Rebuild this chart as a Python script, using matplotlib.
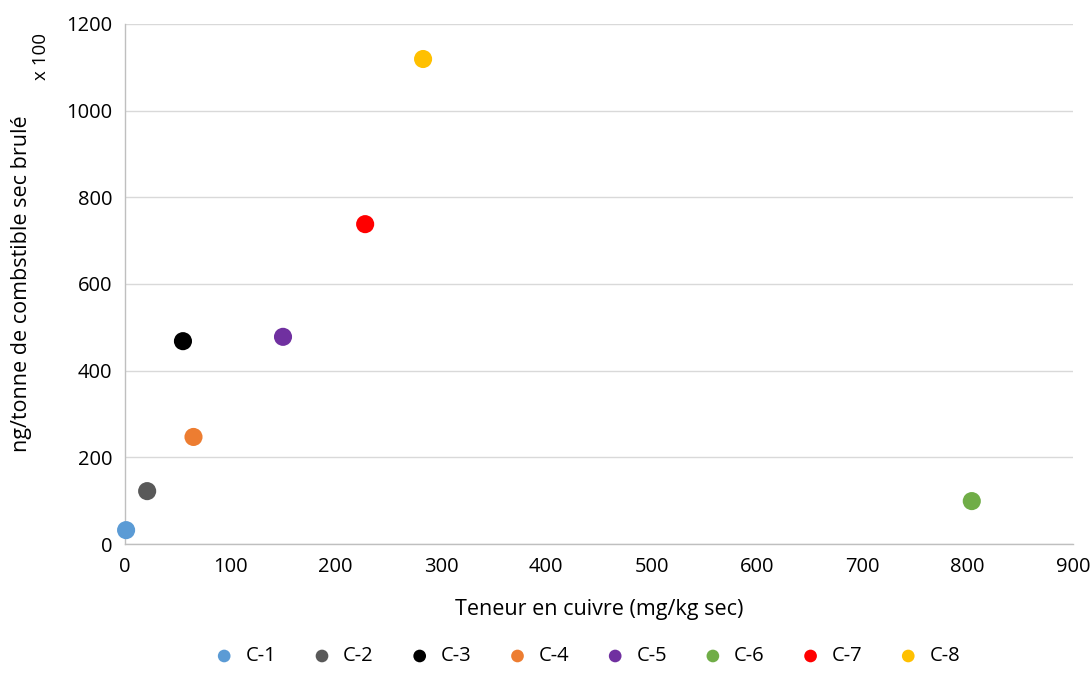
import matplotlib.pyplot as plt

# donnees
labels = ['C-1', 'C-2', 'C-3', 'C-4', 'C-5', 'C-6', 'C-7', 'C-8']
cuivre = [1, 21, 55, 65, 150, 804, 228, 283]
valeurs = [32, 122, 468, 247, 478, 99, 738, 1119]
couleurs = ['#5B9BD5', '#595959', '#000000', '#ED7D31', '#7030A0', '#70AD47', '#FF0000', '#FFC000']

plt.rcParams['font.family'] = ['Open Sans', 'DejaVu Sans']

fig = plt.figure(figsize=(10.92, 6.93), dpi=100)
ax = fig.add_axes([0.1145, 0.215, 0.868, 0.7505])

for lab, x, y, c in zip(labels, cuivre, valeurs, couleurs):
    ax.scatter(x, y, s=170, color=c, label=lab, zorder=3, edgecolors='none', clip_on=False)

ax.set_xlim(0, 900)
ax.set_ylim(0, 1200)
ax.set_xticks(range(0, 901, 100))
ax.set_yticks(range(0, 1201, 200))
ax.grid(axis='y', color='#D9D9D9', linewidth=1)
ax.set_axisbelow(True)
for s in ['top', 'right']:
    ax.spines[s].set_visible(False)
for s in ['left', 'bottom']:
    ax.spines[s].set_color('#BFBFBF')
    ax.spines[s].set_linewidth(1)
ax.tick_params(length=0, labelsize=14.5, colors='#000000', pad=9)

ax.set_xlabel('Teneur en cuivre (mg/kg sec)', fontsize=15.5, labelpad=16)
ax.set_ylabel('ng/tonne de combstible sec brulé', fontsize=15.5, labelpad=25)
fig.text(0.038, 0.918, 'x 100', rotation=90, fontsize=13.5, ha='center', va='center')

fig.legend(loc='center', bbox_to_anchor=(0.533, 0.053), ncol=8, frameon=False,
           fontsize=14.5, handletextpad=0.05, columnspacing=1.28, markerscale=0.7)

fig.savefig('out.png', dpi=100)
